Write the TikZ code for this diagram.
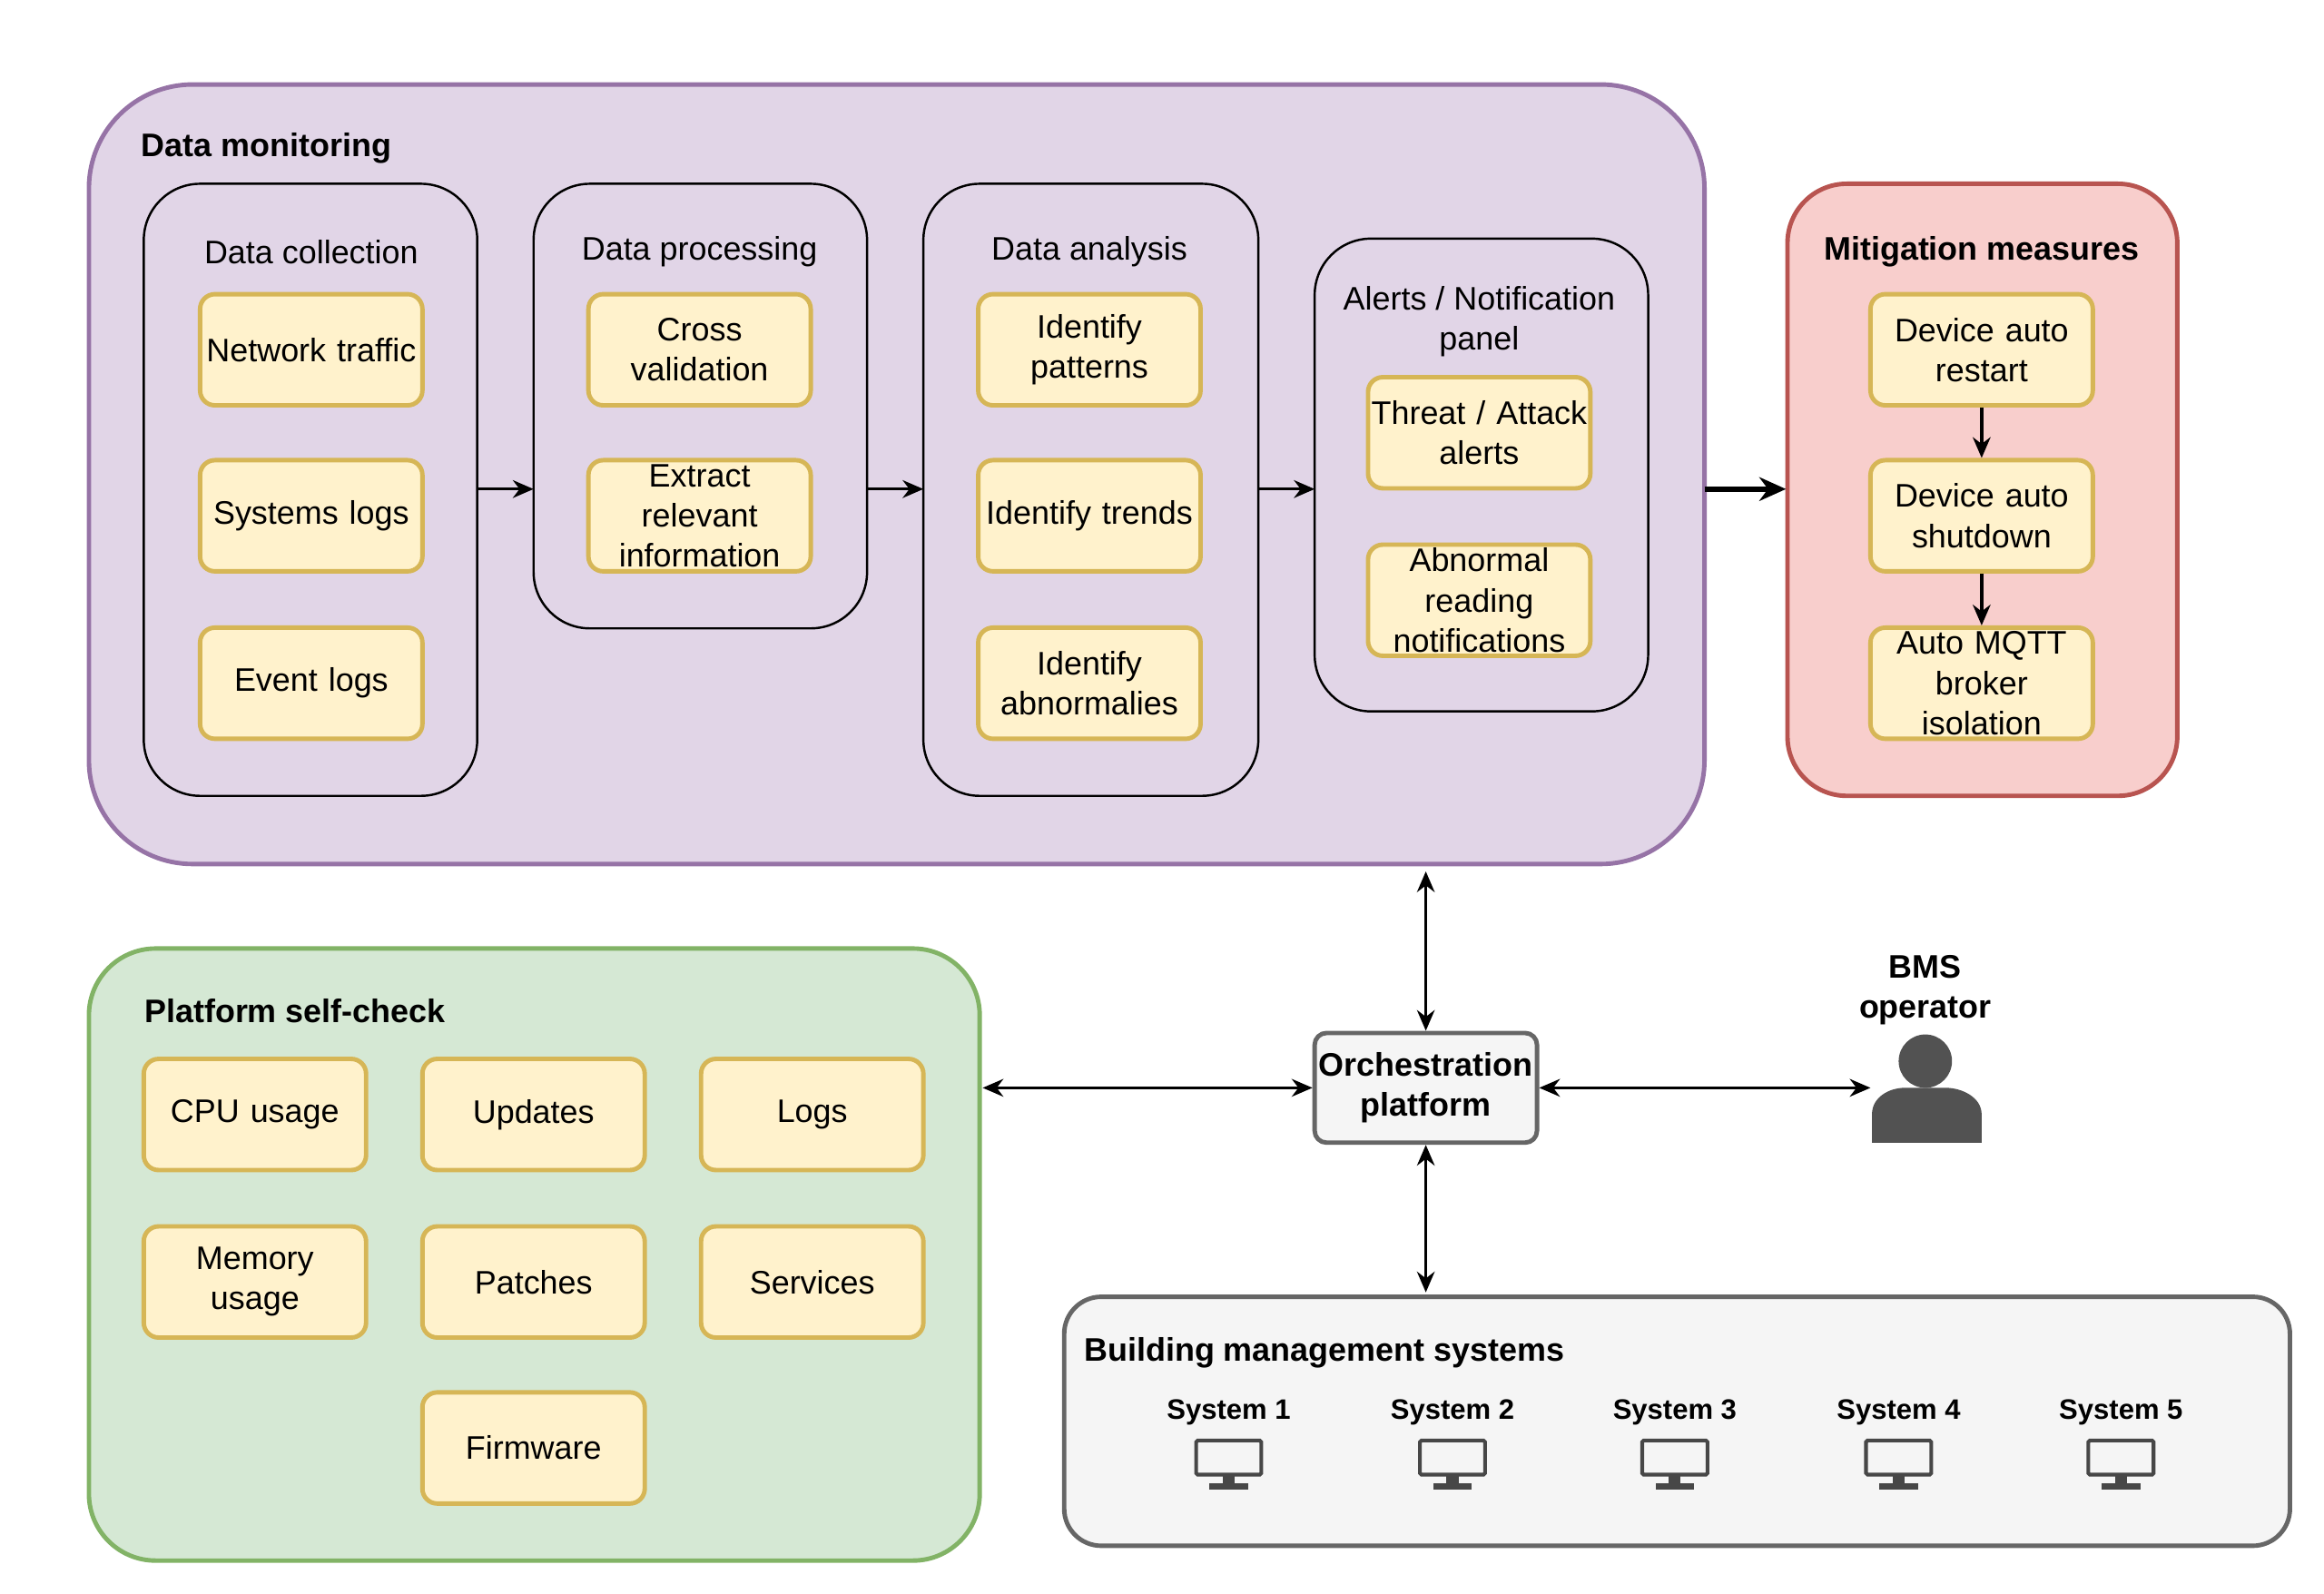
\documentclass[tikz,border=0pt]{standalone}
\usepackage{fontspec}
\setmainfont{Liberation Sans}
\usetikzlibrary{arrows.meta}
\definecolor{dmf}{HTML}{E1D5E7}\definecolor{dmd}{HTML}{9673A6}
\definecolor{yf}{HTML}{FFF2CC}\definecolor{yd}{HTML}{D6B656}
\definecolor{rf}{HTML}{F8CECC}\definecolor{rd}{HTML}{B85450}
\definecolor{gf}{HTML}{D5E8D4}\definecolor{gd}{HTML}{82B366}
\definecolor{sf}{HTML}{F5F5F5}\definecolor{sd}{HTML}{666666}
\begin{document}
\begin{tikzpicture}[x=1pt,y=-1pt,
  every node/.style={font=\fontsize{22}{27}\selectfont},
  yb/.style={draw=yd,fill=yf,line width=3pt,rounded corners=10pt,minimum width=150pt,minimum height=75pt,align=center,text width=148pt,inner sep=0pt},
  inner/.style={draw=black,line width=1.5pt,rounded corners=38pt},
  ttl/.style={font=\fontsize{22}{27}\selectfont\bfseries,anchor=west},
  arr/.style={-{Stealth[length=14pt,width=12pt]},line width=2pt},
  darr/.style={{Stealth[length=14pt,width=12pt]}-{Stealth[length=14pt,width=12pt]},line width=1.5pt}]
\useasboundingbox (0,0) rectangle (1568,1075.5);
% Data monitoring
\draw[draw=dmd,fill=dmf,line width=3pt,rounded corners=70pt] (60,57) rectangle (1150,583);
\node[ttl] at (92,100) {Data monitoring};
\draw[inner] (97,124) rectangle (322,537);
\draw[inner] (360,124) rectangle (585,424);
\draw[inner] (623,124) rectangle (849,537);
\draw[inner] (887,161) rectangle (1112,480);
\node at (210,170) {Data collection};
\node at (472,170) {Data processing};
\node at (735,170) {Data analysis};
\node[align=center] at (998,217) {Alerts / Notification\\panel};
\node[yb] (c1) at (210,236) {Network traffic};
\node[yb] (c2) at (210,348) {Systems logs};
\node[yb] (c3) at (210,461) {Event logs};
\node[yb] (p1) at (472,236) {Cross\\validation};
\node[yb] (p2) at (472,348) {Extract\\relevant\\information};
\node[yb] (a1) at (735,236) {Identify\\patterns};
\node[yb] (a2) at (735,348) {Identify trends};
\node[yb] (a3) at (735,461) {Identify\\abnormalies};
\node[yb] (n1) at (998,292) {Threat / Attack\\alerts};
\node[yb] (n2) at (998,405) {Abnormal\\reading\\notifications};
\coordinate (dc) at (322,330); \coordinate (dp) at (360,330);
\coordinate (pe) at (585,330); \coordinate (as) at (623,330);
\coordinate (ae) at (849,330); \coordinate (ns) at (887,330);
\draw[arr] (dc) -- (dp); \draw[arr] (pe) -- (as); \draw[arr] (ae) -- (ns);
% Mitigation
\draw[draw=rd,fill=rf,line width=3pt,rounded corners=40pt] (1206,124) rectangle (1469,537);
\node[font=\fontsize{22}{27}\selectfont\bfseries] at (1337,170) {Mitigation measures};
\node[yb] (m1) at (1337,236) {Device auto\\restart};
\node[yb] (m2) at (1337,348) {Device auto\\shutdown};
\node[yb] (m3) at (1337,461) {Auto MQTT\\broker\\isolation};
\draw[arr] (m1) -- (m2); \draw[arr] (m2) -- (m3);
\coordinate (dme) at (1150,330); \coordinate (mms) at (1205,330);
\draw[-{Stealth[length=18pt,width=16pt]},line width=3.5pt] (dme) -- (mms);
% Platform self-check
\draw[draw=gd,fill=gf,line width=3pt,rounded corners=45pt] (60,640) rectangle (661,1053);
\node[ttl] at (94,682) {Platform self-check};
\node[yb] at (172,752) {CPU usage};
\node[yb] at (360,752) {Updates};
\node[yb] at (548,752) {Logs};
\node[yb] at (172,865) {Memory\\usage};
\node[yb] at (360,865) {Patches};
\node[yb] at (548,865) {Services};
\node[yb] at (360,977) {Firmware};
% Orchestration
\node[draw=sd,fill=sf,line width=3pt,rounded corners=8pt,minimum width=150pt,minimum height=74pt,align=center,font=\fontsize{22}{27}\selectfont\bfseries,inner sep=0pt] (o) at (962,734) {Orchestration\\platform};
\coordinate (dmb) at (962,588); \coordinate (psr) at (663,734);
\coordinate (opl) at (1262,734); \coordinate (bmt) at (962,872);
\draw[darr] (dmb) -- (o.north); \draw[darr] (o.west) -- (psr);
\draw[darr] (o.east) -- (opl); \draw[darr] (o.south) -- (bmt);
% operator
\node[align=center,font=\fontsize{22}{27}\selectfont\bfseries] at (1299,668) {BMS\\operator};
\fill[sd!80!black] (1299,716) circle (18);
\fill[sd!80!black] (1263,771) -- (1263,752) .. controls (1263,740) and (1275,734) .. (1285,734) -- (1313,734) .. controls (1323,734) and (1337,740) .. (1337,752) -- (1337,771) -- cycle;
% BMS
\draw[draw=sd,fill=sf,line width=3pt,rounded corners=25pt] (718,875) rectangle (1545,1043);
\node[ttl] at (728,913) {Building management systems};
\foreach \x/\n in {829/1,980/2,1130/3,1281/4,1431/5}{
  \node[font=\fontsize{19}{21}\selectfont\bfseries] at (\x,953) {System \n};
  \draw[line width=2.5pt,draw=sd!70!black,rounded corners=1pt] (\x-22,972) rectangle (\x+22,995);
  \fill[sd!70!black] (\x-4,995) rectangle (\x+4,1001);
  \fill[sd!70!black] (\x-13,1001) rectangle (\x+13,1005);
}
\end{tikzpicture}
\end{document}
